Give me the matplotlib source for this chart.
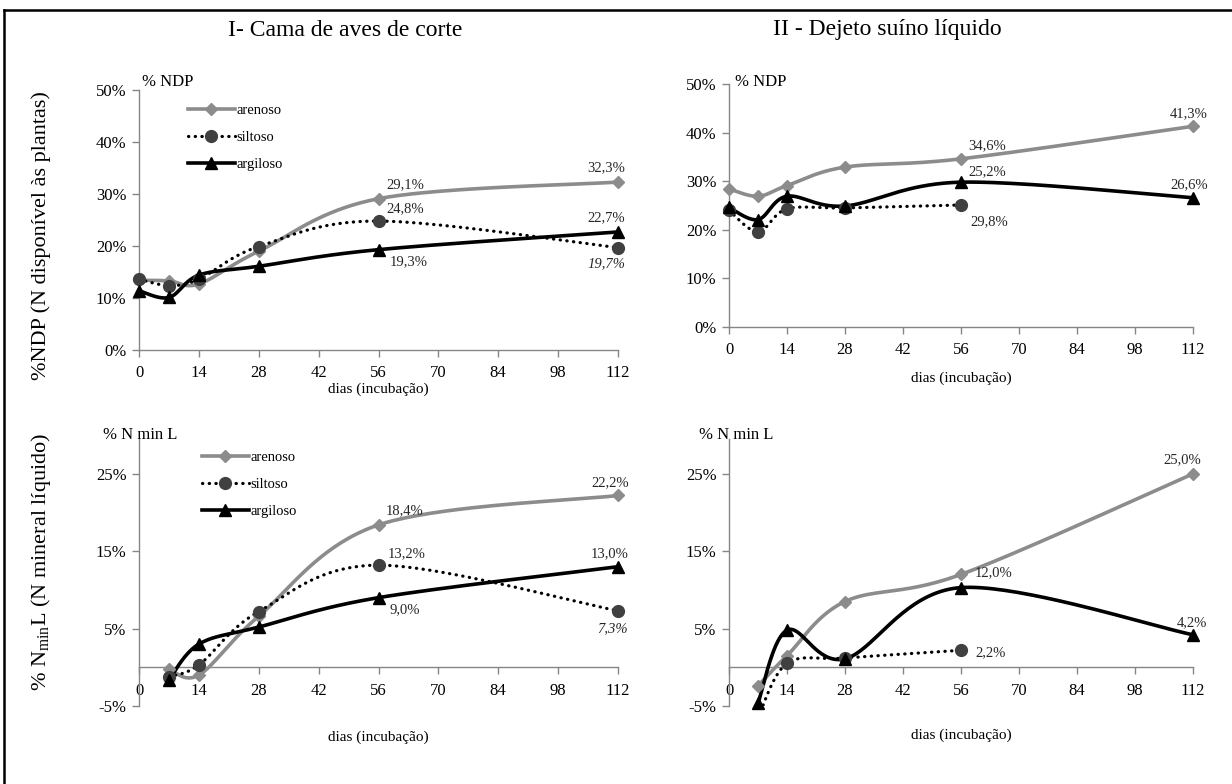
import numpy as np
import matplotlib
matplotlib.use('Agg')
from matplotlib import pyplot as plt
from matplotlib.lines import Line2D

plt.rcParams['font.family'] = ['Liberation Serif', 'DejaVu Serif']
plt.rcParams['mathtext.fontset'] = 'custom'
plt.rcParams['mathtext.rm'] = 'Liberation Serif'
plt.rcParams['mathtext.it'] = 'Liberation Serif:italic'

W, H = 1232, 784

dias = [0, 7, 14, 28, 56, 112]
dias_min = [7, 14, 28, 56, 112]
xticks = [0, 14, 28, 42, 56, 70, 84, 98, 112]

# I - cama de aves de corte, % NDP
ndp_aves_arenoso = [13.4, 13.3, 12.7, 19.0, 29.1, 32.3]
ndp_aves_siltoso = [13.6, 12.4, 13.6, 19.9, 24.8, 19.7]
ndp_aves_argiloso = [11.4, 10.1, 14.4, 16.1, 19.3, 22.7]
# II - dejeto suino liquido, % NDP
ndp_suino_arenoso = [28.4, 26.9, 29.1, 32.9, 34.6, 41.3]
ndp_suino_siltoso = [24.0, 19.6, 24.3, 24.5, 25.1]
ndp_suino_argiloso = [24.6, 22.1, 26.9, 24.9, 29.8, 26.6]
# I - % N min L
min_aves_arenoso = [-0.2, -1.0, 6.6, 18.4, 22.2]
min_aves_siltoso = [-1.2, 0.3, 7.2, 13.2, 7.3]
min_aves_argiloso = [-1.6, 3.0, 5.2, 9.0, 13.0]
# II - % N min L
min_suino_arenoso = [-2.4, 1.5, 8.5, 12.0, 25.0]
min_suino_siltoso = [-6.5, 0.5, 1.2, 2.2]
min_suino_argiloso = [-4.6, 4.8, 1.1, 10.3, 4.2]

estilos = {
    'arenoso': dict(color='#8c8c8c', lw=2.6, ls='-', marker='D', ms=6,
                    mfc='#8c8c8c', mec='#8c8c8c'),
    'siltoso': dict(color='black', lw=2.3, ls=(0, (0.1, 2.0)), marker='o', ms=8.5,
                    mfc='#404040', mec='#404040'),
    'argiloso': dict(color='black', lw=2.6, ls='-', marker='^', ms=9,
                     mfc='black', mec='black'),
}


def fx(px):
    return px / W


def fy(py):
    return 1 - py / H


def suave(x, y, n=40):
    # curva suavizada tipo excel (bezier)
    x = np.asarray(x, float)
    y = np.asarray(y, float)
    cx, cy = [], []
    t = np.linspace(0, 1, n)
    for i in range(len(x) - 1):
        i0 = max(i - 1, 0)
        i3 = min(i + 2, len(x) - 1)
        c1x = x[i] + (x[i + 1] - x[i0]) / 6
        c1y = y[i] + (y[i + 1] - y[i0]) / 6
        c2x = x[i + 1] - (x[i3] - x[i]) / 6
        c2y = y[i + 1] - (y[i3] - y[i]) / 6
        bx = (1-t)**3*x[i] + 3*(1-t)**2*t*c1x + 3*(1-t)*t**2*c2x + t**3*x[i+1]
        by = (1-t)**3*y[i] + 3*(1-t)**2*t*c1y + 3*(1-t)*t**2*c2y + t**3*y[i+1]
        cx.extend(bx)
        cy.extend(by)
    return np.array(cx), np.array(cy)


def serie(ax, x, y, nome, clip=False):
    s = estilos[nome]
    sx, sy = suave(x, y)
    ax.plot(sx, sy, color=s['color'], lw=s['lw'], ls=s['ls'], clip_on=clip,
            solid_capstyle='round', dash_capstyle='round', zorder=3)
    ax.plot(x, y, ls='none', marker=s['marker'], ms=s['ms'], mfc=s['mfc'],
            mec=s['mec'], clip_on=clip, zorder=4)


def rotulo(ax, x, y, txt, dx, dy, italic=False):
    ax.annotate(txt, (x, y), xytext=(dx, dy), textcoords='offset pixels',
                ha='center', va='center', fontsize=10.5, color='#262626',
                style='italic' if italic else 'normal', annotation_clip=False)


def eixo(ax, ymin, ymax, yticks, zero_axis=False):
    ax.set_xlim(0, 112)
    ax.set_ylim(ymin, ymax)
    ax.set_xticks(xticks)
    ax.set_yticks(yticks)
    ax.set_yticklabels(['%d%%' % v for v in yticks])
    for s in ['top', 'right']:
        ax.spines[s].set_visible(False)
    for s in ['left', 'bottom']:
        ax.spines[s].set_color('#868686')
        ax.spines[s].set_linewidth(1.0)
    if zero_axis:
        ax.spines['bottom'].set_position(('data', 0))
    ax.tick_params(direction='out', length=5, color='#868686', width=1,
                   labelsize=12, labelcolor='black')
    ax.tick_params(axis='x', pad=6)
    ax.tick_params(axis='y', pad=4)
    ax.patch.set_alpha(0)


fig = plt.figure(figsize=(W / 100, H / 100), dpi=100)

ax1 = fig.add_axes([fx(139), fy(350), fx(618) - fx(139), (350 - 90) / H])
ax2 = fig.add_axes([fx(729), fy(327), fx(1193) - fx(729), (327 - 84) / H])
ax3 = fig.add_axes([fx(139), fy(706), fx(618) - fx(139), (706 - 439) / H])
ax4 = fig.add_axes([fx(729), fy(706), fx(1193) - fx(729), (706 - 439) / H])

eixo(ax1, 0, 50, [0, 10, 20, 30, 40, 50])
eixo(ax2, 0, 50, [0, 10, 20, 30, 40, 50])
eixo(ax3, -5, 29.5, [-5, 5, 15, 25], zero_axis=True)
eixo(ax4, -5, 29.5, [-5, 5, 15, 25], zero_axis=True)

# painel I - NDP
serie(ax1, dias, ndp_aves_arenoso, 'arenoso')
serie(ax1, dias, ndp_aves_siltoso, 'siltoso')
serie(ax1, dias, ndp_aves_argiloso, 'argiloso')
rotulo(ax1, 56, ndp_aves_arenoso[4], '29,1%', 27, 14)
rotulo(ax1, 112, ndp_aves_arenoso[5], '32,3%', -12, 14)
rotulo(ax1, 56, ndp_aves_siltoso[4], '24,8%', 27, 12)
rotulo(ax1, 112, ndp_aves_argiloso[5], '22,7%', -12, 14)
rotulo(ax1, 56, ndp_aves_argiloso[4], '19,3%', 30, -12)
rotulo(ax1, 112, ndp_aves_siltoso[5], '19,7%', -12, -16, italic=True)

# painel II - NDP
serie(ax2, dias, ndp_suino_arenoso, 'arenoso')
serie(ax2, dias[:5], ndp_suino_siltoso, 'siltoso')
serie(ax2, dias, ndp_suino_argiloso, 'argiloso')
rotulo(ax2, 56, ndp_suino_arenoso[4], '34,6%', 26, 13)
rotulo(ax2, 56, ndp_suino_argiloso[4], '25,2%', 26, 10)
rotulo(ax2, 56, ndp_suino_siltoso[4], '29,8%', 28, -17)
rotulo(ax2, 112, ndp_suino_arenoso[5], '41,3%', -4, 13)
rotulo(ax2, 112, ndp_suino_argiloso[5], '26,6%', -4, 13)

# painel I - N min L
serie(ax3, dias_min, min_aves_arenoso, 'arenoso')
serie(ax3, dias_min, min_aves_siltoso, 'siltoso')
serie(ax3, dias_min, min_aves_argiloso, 'argiloso')
rotulo(ax3, 56, min_aves_arenoso[3], '18,4%', 26, 14)
rotulo(ax3, 112, min_aves_arenoso[4], '22,2%', -8, 13)
rotulo(ax3, 56, min_aves_siltoso[3], '13,2%', 28, 11)
rotulo(ax3, 112, min_aves_argiloso[4], '13,0%', -8, 13)
rotulo(ax3, 56, min_aves_argiloso[3], '9,0%', 26, -12)
rotulo(ax3, 112, min_aves_siltoso[4], '7,3%', -6, -18, italic=True)

# painel II - N min L
serie(ax4, dias_min, min_suino_arenoso, 'arenoso')
serie(ax4, dias_min[:4], min_suino_siltoso, 'siltoso', clip=True)
serie(ax4, dias_min, min_suino_argiloso, 'argiloso')
rotulo(ax4, 56, min_suino_arenoso[3], '12,0%', 33, 2)
rotulo(ax4, 112, min_suino_arenoso[4], '25,0%', -11, 14)
rotulo(ax4, 112, min_suino_argiloso[4], '4,2%', -1, 12)
rotulo(ax4, 56, min_suino_siltoso[3], '2,2%', 30, -2)

# legendas
handles = [Line2D([], [], color=estilos[k]['color'], lw=estilos[k]['lw'],
                  ls=estilos[k]['ls'], marker=estilos[k]['marker'],
                  ms=estilos[k]['ms'], mfc=estilos[k]['mfc'],
                  mec=estilos[k]['mec'], dash_capstyle='round')
           for k in ['arenoso', 'siltoso', 'argiloso']]
nomes = ['arenoso', 'siltoso', 'argiloso']
for ax, (lx, ly) in [(ax1, (188, 104)), (ax3, (202, 451))]:
    ax.legend(handles, nomes, loc='upper left', bbox_to_anchor=(fx(lx), fy(ly)),
              bbox_transform=fig.transFigure, frameon=False, fontsize=10.5,
              handlelength=3.2, handletextpad=0.1, labelspacing=0.95,
              borderpad=0, borderaxespad=0, numpoints=1)

# textos
fig.text(fx(345), fy(30), 'I- Cama de aves de corte', ha='center', va='center',
         fontsize=17)
fig.text(fx(887), fy(30), 'II - Dejeto suíno líquido', ha='center', va='center',
         fontsize=17)
fig.text(fx(41), fy(236), '%NDP (N disponível às plantas)', rotation=90,
         ha='center', va='center', fontsize=16)
fig.text(fx(41), fy(562), '% N$_{\\mathrm{min}}$L (N mineral líquido)',
         rotation=90, ha='center', va='center', fontsize=16)
fig.text(fx(142), fy(82), '% NDP', ha='left', va='center', fontsize=12)
fig.text(fx(735), fy(82), '% NDP', ha='left', va='center', fontsize=12)
fig.text(fx(103), fy(435), '% N min L', ha='left', va='center', fontsize=12)
fig.text(fx(699), fy(435), '% N min L', ha='left', va='center', fontsize=12)
fig.text(fx(378), fy(389), 'dias (incubação)', ha='center', va='center', fontsize=11)
fig.text(fx(961), fy(378), 'dias (incubação)', ha='center', va='center', fontsize=11)
fig.text(fx(378), fy(737), 'dias (incubação)', ha='center', va='center', fontsize=11)
fig.text(fx(961), fy(735), 'dias (incubação)', ha='center', va='center', fontsize=11)

# moldura
fig.add_artist(Line2D([fx(4), fx(4)], [fy(10), 0], color='black', lw=1.8))
fig.add_artist(Line2D([fx(4), 1], [fy(10), fy(10)], color='black', lw=1.8))

fig.savefig('out.png', dpi=100)
